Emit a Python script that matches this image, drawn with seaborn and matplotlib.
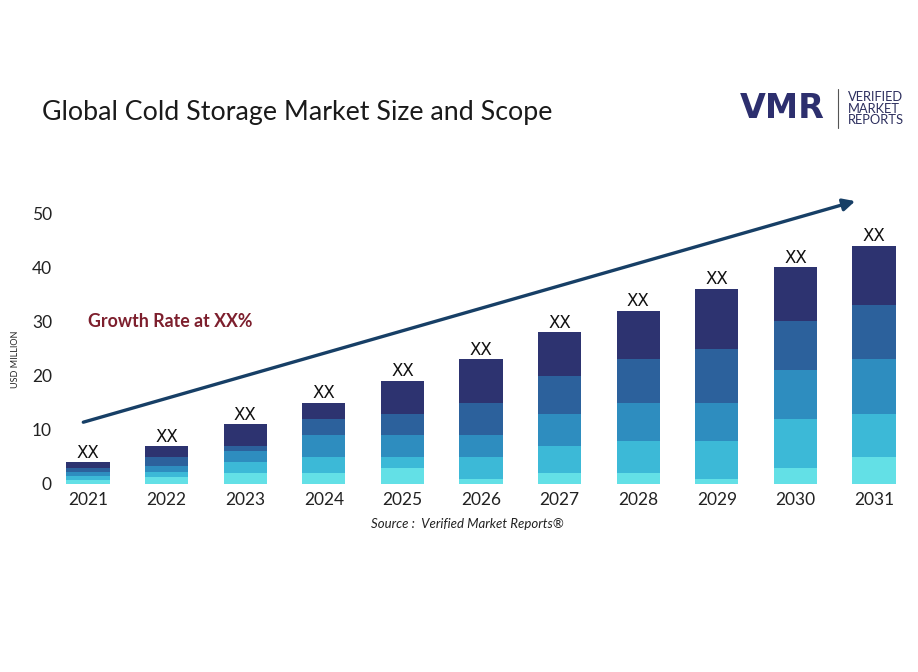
import numpy as np
import seaborn as sns
import matplotlib
matplotlib.use("Agg")
import matplotlib.pyplot as plt

years = ['2021', '2022', '2023', '2024', '2025', '2026', '2027', '2028', '2029', '2030', '2031']
# segment heights, bottom (lightest) to top (darkest)
seg1 = [0.7, 1.2, 2, 2, 3, 1, 2, 2, 1, 3, 5]
seg2 = [0.7, 1.1, 2, 3, 2, 4, 5, 6, 7, 9, 8]
seg3 = [0.8, 1.0, 2, 4, 4, 4, 6, 7, 7, 9, 10]
seg4 = [0.8, 1.7, 1, 3, 4, 6, 7, 8, 10, 9, 10]
seg5 = [1.0, 2.0, 4, 3, 6, 8, 8, 9, 11, 10, 11]
bar_labels = ['XX'] * len(years)
yticks = [0, 10, 20, 30, 40, 50]

colors = ['#63e0e6', '#3cb9d7', '#2e8dbf', '#2c619c', '#2d3370']

sns.set_theme(style="white")
plt.rcParams['font.family'] = ['Lato', 'DejaVu Sans']

fig = plt.figure(figsize=(9.18, 6.72), dpi=100)
ax = fig.add_axes([0.0702, 0.2798, 0.9205, 0.4435])

segs = np.array([seg1, seg2, seg3, seg4, seg5])
cums = np.cumsum(segs, axis=0)

# draw tallest first so lower levels sit on top
for level in range(4, -1, -1):
    sns.barplot(x=years, y=cums[level], color=colors[level], width=0.55,
                saturation=1, ax=ax, linewidth=0)

totals = cums[-1]
for i, t in enumerate(totals):
    ax.text(i, t + 0.1, bar_labels[i], ha='center', va='bottom',
            fontsize=12, family='DejaVu Sans', color='#111111')

ax.annotate('', xy=(9.76, 52.2), xytext=(-0.06, 11.4),
            arrowprops=dict(arrowstyle='-|>', color='#173f66', lw=2.4,
                            mutation_scale=18, shrinkA=0, shrinkB=0),
            annotation_clip=False)

ax.text(0.0, 30.0, 'Growth Rate at XX%', color='#7d1f2d', fontsize=12.8,
        fontweight='bold', ha='left', va='center')

ax.set_xlim(-0.3, 10.45)
ax.set_ylim(0, 55)
ax.set_yticks(yticks)
ax.set_xlabel('')
ax.set_ylabel('')
for s in ax.spines.values():
    s.set_visible(False)
ax.tick_params(axis='y', length=0, pad=9, labelsize=12.5, labelcolor='#222222')
ax.tick_params(axis='x', length=0, pad=6, labelsize=12.5, labelcolor='#222222')

fig.text(0.017, 0.465, 'USD MILLION', rotation=90, fontsize=6.5,
         ha='center', va='center', color='#222222')
fig.text(0.509, 0.22, 'Source :  Verified Market Reports®', fontsize=9.5,
         style='italic', ha='center', va='center', color='#222222')
fig.text(0.046, 0.832, 'Global Cold Storage Market Size and Scope',
         fontsize=19.3, ha='left', va='center', color='#1a1a1a')

# logo
fig.text(0.806, 0.838, 'VMR', fontsize=24, fontweight='black',
         color='#2d2f6e', ha='left', va='center', family='DejaVu Sans')
fig.add_artist(plt.Line2D([0.913, 0.913], [0.81, 0.868], color='#555555', lw=0.8))
fig.text(0.924, 0.838, 'VERIFIED\nMARKET\nREPORTS', fontsize=9.3,
         color='#2d2f5e', ha='left', va='center', linespacing=0.95)

fig.savefig('out.png', dpi=100)
